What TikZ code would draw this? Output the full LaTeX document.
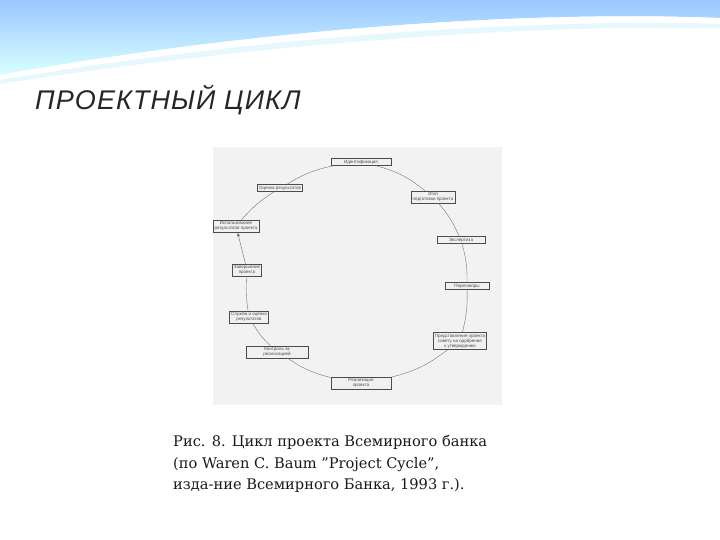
\documentclass[tikz,border=0pt]{standalone}
\usepackage{fontspec}
\setmainfont{DejaVu Serif}
\newfontfamily\sansf{Liberation Sans}
\newfontfamily\titlef[LetterSpace=4]{Liberation Sans}
\begin{document}
\begin{tikzpicture}[x=1pt,y=-1pt,
  stg/.style={draw=black!70,fill=black!6,font=\sansf\fontsize{4.5}{5}\selectfont,inner sep=1.5pt,align=center,text=black!70},
  lnk/.style={draw=black!55,line width=0.4pt}]
\useasboundingbox (0,0) rectangle (720,540);
\fill[white] (0,0) rectangle (720,540);
% top wave
\shade[top color=cyan!45!blue!40, bottom color=cyan!15] (0,0) -- (720,0) -- (720,18) .. controls (520,10) and (250,30) .. (0,75) -- cycle;
\fill[white,opacity=0.7] (0,75) .. controls (250,30) and (520,10) .. (720,18) -- (720,24) .. controls (520,18) and (250,38) .. (0,80) -- cycle;
\fill[cyan!10] (0,80) .. controls (250,38) and (520,18) .. (720,24) -- (720,28) .. controls (520,24) and (250,45) .. (0,84) -- cycle;
\node[anchor=west,font=\titlef\itshape\fontsize{27}{30}\selectfont,text=black!85,inner sep=0pt] (title) at (35,100) {ПРОЕКТНЫЙ ЦИКЛ};
% scanned figure area
\fill[black!5] (213,147) rectangle (502,405);
\node[stg,minimum width=60pt] (n1) at (361,162) {Идентификация};
\node[stg] (n2) at (433,197) {Этап\\подготовки проекта};
\node[stg,minimum width=48pt] (n3) at (461,240) {Экспертиза};
\node[stg,minimum width=44pt] (n4) at (467,286) {Переговоры};
\node[stg] (n5) at (460,341) {Представление проекта\\совету на одобрение\\к утверждению};
\node[stg,minimum width=60pt] (n6) at (361,383) {Реализация\\проекта};
\node[stg,minimum width=62pt] (n7) at (277,352) {Контроль за\\реализацией};
\node[stg] (n8) at (249,317) {Служба и оценка\\результатов};
\node[stg] (n9) at (247,270) {Завершение\\проекта};
\node[stg] (n10) at (236,226) {Использование\\результатов проекта};
\node[stg] (n11) at (280,188) {Оценка результатов};
\draw[lnk] (n1) to[bend left=12] (n2);
\draw[lnk] (n2) to[bend left=8] (n3);
\draw[lnk] (n3) to[bend left=8] (n4);
\draw[lnk] (n4) to[bend left=8] (n5);
\draw[lnk] (n5) to[bend left=12] (n6);
\draw[lnk] (n6) to[bend left=10] (n7);
\draw[lnk] (n7) to[bend left=8] (n8);
\draw[lnk] (n8) to[bend left=6] (n9);
\draw[lnk,-latex] (n9) -- (n10);
\draw[lnk] (n10) to[bend left=8] (n11);
\draw[lnk] (n11) to[bend left=10] (n1);
\node[anchor=north west,align=left,font=\fontsize{14.6}{21.5}\selectfont,text=black!90,inner sep=0pt] (cap) at (173,435) {Рис. 8. Цикл проекта Всемирного банка\\(по Waren C. Baum "Project Cycle",\\изда-ние Всемирного Банка, 1993 г.).};
\end{tikzpicture}
\end{document}
